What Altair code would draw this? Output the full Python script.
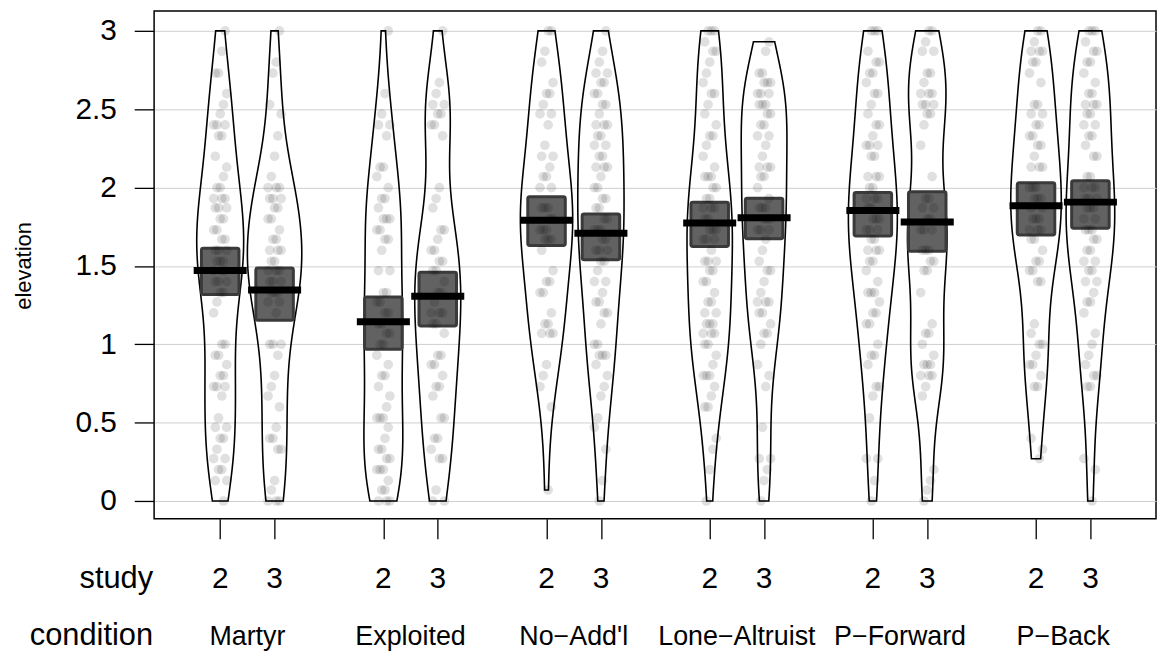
import altair as alt
import pandas as pd

# ---------------- data ----------------
conditions = ["Martyr", "Exploited", "No\u2212Add'l", "Lone\u2212Altruist", "P\u2212Forward", "P\u2212Back"]
studies = ["2", "3"]

martyr_2 = [3.0, 2.87, 2.73, 2.73, 2.6, 2.53, 2.47, 2.4, 2.4, 2.4, 2.33, 2.33, 2.2, 2.13, 2.07, 2.0, 2.0,
            1.93, 1.93, 1.93, 1.87, 1.87, 1.87, 1.8, 1.8, 1.73, 1.73, 1.67, 1.67, 1.6, 1.6, 1.6, 1.53, 1.53,
            1.53, 1.47, 1.47, 1.47, 1.4, 1.4, 1.4, 1.33, 1.33, 1.27, 1.2, 1.0, 1.0, 0.93, 0.93, 0.87, 0.8,
            0.8, 0.73, 0.73, 0.73, 0.67, 0.53, 0.47, 0.47, 0.4, 0.4, 0.33, 0.27, 0.27, 0.2, 0.2, 0.13, 0.13, 0.0]
martyr_3 = [3.0, 2.8, 2.73, 2.53, 2.47, 2.33, 2.2, 2.07, 2.0, 2.0, 2.0, 1.93, 1.93, 1.93, 1.87, 1.87, 1.8,
            1.8, 1.73, 1.67, 1.67, 1.6, 1.6, 1.6, 1.53, 1.53, 1.47, 1.47, 1.47, 1.4, 1.4, 1.4, 1.33, 1.33,
            1.33, 1.27, 1.27, 1.2, 1.0, 1.0, 1.0, 0.93, 0.8, 0.73, 0.67, 0.6, 0.47, 0.4, 0.4, 0.33, 0.33,
            0.13, 0.07, 0.0, 0.0, 0.0]
exploited_2 = [3.0, 2.6, 2.47, 2.4, 2.4, 2.33, 2.13, 2.13, 2.07, 2.0, 1.93, 1.93, 1.87, 1.8, 1.8, 1.8, 1.73,
               1.73, 1.67, 1.67, 1.6, 1.47, 1.47, 1.33, 1.33, 1.27, 1.27, 1.2, 1.2, 1.13, 1.13, 1.07, 1.07,
               1.0, 1.0, 0.93, 0.87, 0.8, 0.8, 0.73, 0.67, 0.6, 0.53, 0.53, 0.53, 0.47, 0.4, 0.33, 0.33,
               0.27, 0.27, 0.2, 0.2, 0.2, 0.13, 0.07, 0.07, 0.0, 0.0, 0.0]
exploited_3 = [3.0, 2.67, 2.6, 2.53, 2.53, 2.47, 2.47, 2.4, 2.4, 2.33, 2.0, 1.93, 1.87, 1.73, 1.73, 1.67,
               1.6, 1.6, 1.53, 1.53, 1.47, 1.47, 1.4, 1.33, 1.33, 1.27, 1.2, 1.2, 1.2, 1.13, 1.13, 1.07,
               0.93, 0.93, 0.87, 0.87, 0.8, 0.73, 0.73, 0.67, 0.53, 0.53, 0.4, 0.4, 0.33, 0.27, 0.27, 0.07,
               0.0, 0.0]
noaddl_2 = [3.0, 3.0, 2.87, 2.8, 2.67, 2.6, 2.6, 2.53, 2.47, 2.47, 2.4, 2.27, 2.2, 2.2, 2.13, 2.07, 2.07,
            2.0, 2.0, 1.87, 1.87, 1.87, 1.8, 1.8, 1.73, 1.73, 1.73, 1.67, 1.67, 1.67, 1.6, 1.47, 1.4, 1.4,
            1.33, 1.33, 1.2, 1.13, 1.13, 1.07, 1.07, 1.07, 0.87, 0.8, 0.73, 0.6, 0.07]
noaddl_3 = [3.0, 2.87, 2.8, 2.73, 2.73, 2.67, 2.67, 2.6, 2.6, 2.53, 2.53, 2.47, 2.4, 2.4, 2.4, 2.33, 2.33,
            2.27, 2.27, 2.2, 2.2, 2.13, 2.13, 2.13, 2.07, 2.0, 2.0, 1.93, 1.93, 1.87, 1.87, 1.8, 1.8, 1.73,
            1.73, 1.73, 1.67, 1.67, 1.6, 1.6, 1.6, 1.53, 1.53, 1.47, 1.4, 1.4, 1.33, 1.27, 1.27, 1.2, 1.2,
            1.13, 1.0, 1.0, 0.93, 0.93, 0.93, 0.87, 0.8, 0.73, 0.67, 0.53, 0.47, 0.33, 0.13, 0.0]
lonealt_2 = [3.0, 3.0, 3.0, 2.93, 2.87, 2.87, 2.8, 2.73, 2.67, 2.6, 2.6, 2.53, 2.47, 2.4, 2.33, 2.33, 2.27,
             2.2, 2.13, 2.07, 2.07, 2.07, 2.0, 2.0, 1.93, 1.93, 1.87, 1.87, 1.87, 1.8, 1.8, 1.73, 1.73,
             1.73, 1.67, 1.67, 1.67, 1.6, 1.53, 1.53, 1.53, 1.47, 1.47, 1.4, 1.4, 1.33, 1.27, 1.27, 1.2,
             1.2, 1.13, 1.13, 1.13, 1.07, 1.07, 1.07, 1.0, 1.0, 0.93, 0.87, 0.8, 0.8, 0.8, 0.73, 0.67, 0.6,
             0.6, 0.4, 0.33, 0.2, 0.0]
lonealt_3 = [2.93, 2.87, 2.73, 2.73, 2.67, 2.67, 2.67, 2.6, 2.6, 2.6, 2.53, 2.53, 2.53, 2.47, 2.47, 2.4,
             2.4, 2.33, 2.33, 2.27, 2.2, 2.13, 2.13, 2.13, 2.07, 2.07, 2.0, 1.93, 1.87, 1.87, 1.87, 1.8,
             1.8, 1.8, 1.73, 1.73, 1.73, 1.67, 1.6, 1.53, 1.47, 1.47, 1.4, 1.33, 1.27, 1.27, 1.27, 1.2,
             1.2, 1.13, 1.07, 1.07, 1.0, 0.87, 0.8, 0.73, 0.47, 0.27, 0.27, 0.2, 0.13, 0.0]
pfwd_2 = [3.0, 3.0, 3.0, 2.87, 2.8, 2.8, 2.73, 2.73, 2.67, 2.6, 2.6, 2.53, 2.47, 2.4, 2.4, 2.33, 2.27, 2.27,
          2.27, 2.2, 2.2, 2.07, 2.07, 2.07, 2.0, 2.0, 1.93, 1.93, 1.93, 1.87, 1.87, 1.8, 1.8, 1.8, 1.73,
          1.73, 1.73, 1.67, 1.67, 1.6, 1.6, 1.6, 1.53, 1.53, 1.47, 1.4, 1.33, 1.33, 1.33, 1.27, 1.2, 1.2,
          1.13, 1.13, 1.0, 0.93, 0.93, 0.87, 0.73, 0.73, 0.67, 0.53, 0.27, 0.27, 0.13, 0.0]
pfwd_3 = [3.0, 3.0, 2.93, 2.87, 2.87, 2.73, 2.73, 2.67, 2.6, 2.6, 2.6, 2.53, 2.53, 2.53, 2.47, 2.47, 2.4,
          2.27, 2.07, 1.93, 1.93, 1.87, 1.87, 1.8, 1.8, 1.73, 1.73, 1.73, 1.6, 1.6, 1.6, 1.53, 1.53, 1.47,
          1.47, 1.33, 1.13, 1.07, 1.07, 1.0, 0.93, 0.87, 0.87, 0.87, 0.8, 0.8, 0.8, 0.73, 0.67, 0.2, 0.13,
          0.07, 0.0]
pback_2 = [3.0, 3.0, 2.93, 2.87, 2.87, 2.87, 2.8, 2.8, 2.73, 2.67, 2.53, 2.53, 2.47, 2.47, 2.4, 2.4, 2.33,
           2.33, 2.27, 2.27, 2.2, 2.13, 2.13, 2.13, 2.0, 2.0, 2.0, 1.93, 1.93, 1.93, 1.87, 1.87, 1.8, 1.8,
           1.8, 1.73, 1.73, 1.73, 1.67, 1.67, 1.6, 1.53, 1.53, 1.47, 1.47, 1.4, 1.4, 1.13, 1.07, 1.0, 1.0,
           0.93, 0.87, 0.87, 0.8, 0.73, 0.73, 0.4, 0.33, 0.27]
pback_3 = [3.0, 3.0, 3.0, 2.93, 2.87, 2.87, 2.8, 2.8, 2.73, 2.67, 2.6, 2.6, 2.53, 2.53, 2.53, 2.47, 2.47,
           2.4, 2.4, 2.33, 2.33, 2.27, 2.2, 2.2, 2.07, 2.07, 2.0, 2.0, 2.0, 1.93, 1.93, 1.93, 1.87, 1.87,
           1.87, 1.8, 1.8, 1.73, 1.73, 1.73, 1.67, 1.67, 1.6, 1.6, 1.53, 1.53, 1.47, 1.47, 1.4, 1.4, 1.33,
           1.27, 1.27, 1.2, 1.07, 1.0, 0.93, 0.87, 0.8, 0.8, 0.73, 0.73, 0.27, 0.2, 0.0]

group_points = [martyr_2, martyr_3, exploited_2, exploited_3, noaddl_2, noaddl_3,
                lonealt_2, lonealt_3, pfwd_2, pfwd_3, pback_2, pback_3]

# means and inference band, same order as group_points
means = [1.471, 1.347, 1.144, 1.307, 1.791, 1.708, 1.774, 1.808, 1.854, 1.780, 1.884, 1.907]
band_lo = [1.317, 1.154, 0.968, 1.116, 1.630, 1.539, 1.624, 1.674, 1.691, 1.594, 1.698, 1.740]
band_hi = [1.613, 1.486, 1.302, 1.459, 1.941, 1.831, 1.907, 1.932, 1.968, 1.973, 2.030, 2.044]

# ---------------- tables ----------------
grp_rows, pt_rows = [], []
g = 0
for i, cond in enumerate(conditions):
    for j, st in enumerate(studies):
        pos = 3 * i + j
        grp_rows.append({"condition": cond, "study": st, "pos": pos,
                         "mean": means[g], "lo": band_lo[g], "hi": band_hi[g]})
        for v in group_points[g]:
            pt_rows.append({"condition": cond, "study": st, "pos": pos, "value": v})
        g += 1
grp_df = pd.DataFrame(grp_rows)
pt_df = pd.DataFrame(pt_rows)
positions = list(grp_df["pos"])

FONT = "Liberation Sans"
xscale = alt.Scale(domain=[-1.215, 17.206], nice=False, zero=False)
yscale = alt.Scale(domain=[-0.114, 3.127], nice=False, zero=False)

yaxis = alt.Axis(values=[0, 0.5, 1, 1.5, 2, 2.5, 3], format="~g", tickSize=20, tickWidth=1.3,
                 tickColor="black", domain=False, labelFontSize=30, labelFont=FONT,
                 labelColor="black", labelPadding=18, grid=True, gridColor="#cfcfcf", gridWidth=1,
                 title="elevation", titleFontSize=22, titleFontWeight="normal", titleFont=FONT,
                 titleColor="black", titleX=-131, titleY=256, titleAngle=270,
                 titleBaseline="middle", titleAlign="center")
xaxis = alt.Axis(values=positions, tickSize=20, tickWidth=1.3, tickColor="black", labels=False,
                 domain=False, grid=False, title=None)

# violins: density of the points, truncated at each group's range, globally scaled,
# drawn as a closed outline (left side upward, right side downward)
violin = alt.Chart(pt_df).transform_joinaggregate(
    vmin="min(value)", vmax="max(value)", groupby=["pos"]
).transform_density(
    "value", groupby=["pos", "vmin", "vmax"], extent=[0, 3], steps=301, bandwidth=0.3,
    as_=["v", "density"]
).transform_filter(
    "datum.v >= datum.vmin - 0.004 && datum.v <= datum.vmax + 0.004"
).transform_joinaggregate(
    dmax="max(density)"
).transform_calculate(
    xl="datum.pos - 0.5 * datum.density / datum.dmax",
    xr="datum.pos + 0.5 * datum.density / datum.dmax"
).transform_fold(
    ["xl", "xr"], as_=["side", "xx"]
).transform_calculate(
    ord="datum.side == 'xl' ? datum.v : 10 - datum.v"
).mark_line(interpolate="linear-closed", color="black", strokeWidth=1.6).encode(
    y=alt.Y("v:Q", scale=yscale, axis=yaxis),
    x=alt.X("xx:Q", scale=xscale, axis=xaxis),
    detail="pos:N",
    order="ord:Q",
)

band = alt.Chart(grp_df).transform_calculate(
    bl="datum.pos - 0.345", br="datum.pos + 0.345"
).mark_rect(fill="#626262", stroke="#3a3a3a", strokeWidth=3, cornerRadius=2).encode(
    x=alt.X("bl:Q", scale=xscale), x2="br:Q",
    y=alt.Y("hi:Q", scale=yscale), y2="lo:Q",
)

pts = alt.Chart(pt_df).transform_window(
    rn="row_number()", groupby=["pos"]
).transform_calculate(
    jx="datum.pos + ((datum.rn * 7) % 9 - 4) * 0.03"
).mark_circle(size=95, color="black", opacity=0.12).encode(
    x=alt.X("jx:Q", scale=xscale),
    y=alt.Y("value:Q", scale=yscale),
)

mean_line = alt.Chart(grp_df).transform_calculate(
    ml="datum.pos - 0.4875", mr="datum.pos + 0.4875"
).mark_rule(strokeWidth=7, color="black").encode(
    x=alt.X("ml:Q", scale=xscale), x2="mr:Q",
    y=alt.Y("mean:Q", scale=yscale),
)

study_lbl = alt.Chart(grp_df).mark_text(fontSize=30, font=FONT, baseline="alphabetic",
                                        align="center", color="black").encode(
    x=alt.X("pos:Q", scale=xscale), y=alt.value(581), text="study:N")

cond_lbl = alt.Chart(grp_df).transform_aggregate(
    center="mean(pos)", groupby=["condition"]
).mark_text(fontSize=27, font=FONT, baseline="alphabetic", align="center", color="black").encode(
    x=alt.X("center:Q", scale=xscale), y=alt.value(638), text="condition:N")

row_study = alt.Chart(pd.DataFrame({"t": ["study"]})).mark_text(
    fontSize=31, font=FONT, baseline="alphabetic", align="right", color="black"
).encode(x=alt.value(-1), y=alt.value(581), text="t:N")

row_cond = alt.Chart(pd.DataFrame({"t": ["condition"]})).mark_text(
    fontSize=31, font=FONT, baseline="alphabetic", align="right", color="black"
).encode(x=alt.value(-1), y=alt.value(638), text="t:N")

chart = alt.layer(violin, band, pts, mean_line, study_lbl, cond_lbl, row_study, row_cond).properties(
    width=1008, height=511,
    autosize=alt.AutoSizeParams(type="none"),
    padding={"left": 147, "top": 1, "right": 1, "bottom": 134},
    background="white",
).configure_view(stroke="black", strokeWidth=1.5)

chart.save("out.html", embed_options={"renderer": "svg", "actions": False})
